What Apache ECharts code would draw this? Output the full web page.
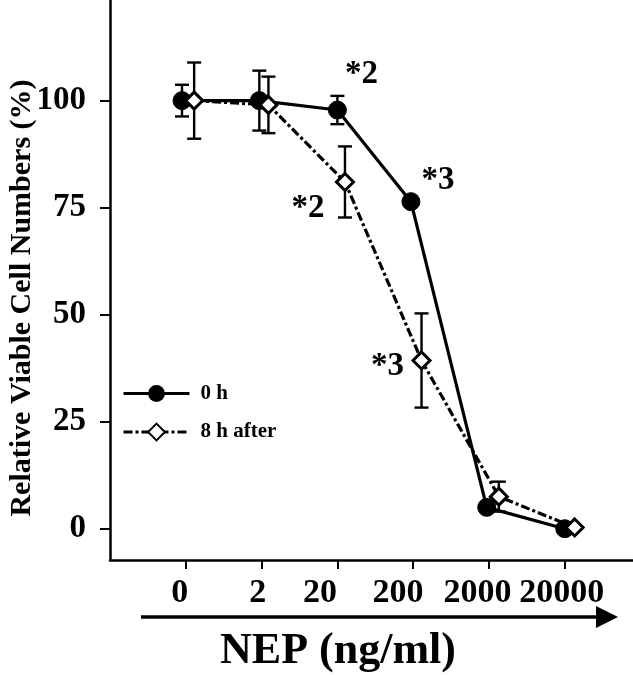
<!DOCTYPE html>
<html>
<head>
<meta charset="utf-8">
<script src="https://cdn.jsdelivr.net/npm/echarts@6/dist/echarts.min.js"></script>
<style>
  html, body { margin: 0; padding: 0; background: #fff; }
  #chart { width: 633px; height: 675px; }
</style>
</head>
<body>
<div id="chart"></div>
<script>
// doses (ng/ml) shown on the x axis, one slot each
const doses = ['0', '2', '20', '200', '2000', '20000'];

// relative viable cells (%) and error bar half-lengths
const viable0h = [100, 100, 97.8, 76.4, 5, 0];
const err0h = [3.7, 7, 3.3, 0, 0, 0];
const viable8h = [100, 99, 81, 39.3, 7.5, 0.3];
const err8h = [8.9, 6.6, 8.3, 11, 3.5, 0];

// small sideways jitter of the points as drawn
const shift0h = [-0.05, -0.03, 0, -0.03, -0.03, 0];
const shift8h = [0.11, 0.09, 0.1, 0.11, 0.13, 0.13];

// significance marks
const notes0h = ['', '', '*2', '*3', '', ''];
const notes8h = ['', '', '*2', '*3', '', ''];

const yTicks = [0, 25, 50, 75, 100];

// layout only
const labelShift = [-0.08, -0.05, -0.23, -0.2, -0.15, -0.04];
const noteOffset0h = [null, null, [24, -36], [27, -21], null, null];
const noteOffset8h = [null, null, [-37, 27], [-34, 6], null, null];
const FONT = '"Liberation Serif", "DejaVu Serif", serif';

function points(vals, shifts, notes, offsets) {
  return vals.map((v, i) => {
    const item = {value: [i + shifts[i], v]};
    if (notes[i]) {
      item.label = {
        show: true,
        formatter: notes[i],
        position: 'inside',
        offset: offsets[i],
        fontFamily: FONT,
        fontWeight: 'bold',
        fontSize: 33,
        color: '#000'
      };
    }
    return item;
  });
}

function bars(vals, errs, shifts) {
  const out = [];
  vals.forEach((v, i) => {
    if (errs[i] > 0) out.push([i + shifts[i], v, errs[i]]);
  });
  return out;
}

function renderBar(params, api) {
  const x = api.value(0), y = api.value(1), e = api.value(2);
  const top = api.coord([x, y + e]);
  const bot = api.coord([x, y - e]);
  const cap = 7;
  const style = {stroke: '#000', lineWidth: 2.4};
  return {
    type: 'group',
    children: [
      {type: 'line', shape: {x1: top[0], y1: top[1], x2: bot[0], y2: bot[1]}, style},
      {type: 'line', shape: {x1: top[0] - cap, y1: top[1], x2: top[0] + cap, y2: top[1]}, style},
      {type: 'line', shape: {x1: bot[0] - cap, y1: bot[1], x2: bot[0] + cap, y2: bot[1]}, style}
    ]
  };
}

const chart = echarts.init(document.getElementById('chart'));

const option = {
  animation: false,
  backgroundColor: '#fff',
  grid: {left: 110, right: 0, top: 0, bottom: 115, containLabel: false},
  legend: {
    data: ['0 h', '8 h after'],
    orient: 'vertical',
    left: 117,
    top: 378,
    itemWidth: 66,
    itemHeight: 21,
    itemGap: 17.5,
    lineStyle: {width: 3},
    textStyle: {
      fontFamily: FONT,
      fontWeight: 'bold',
      fontSize: 21,
      color: '#000',
      padding: [0, 0, 0, 6]
    }
  },
  xAxis: {
    type: 'value',
    min: -1,
    max: 5.9,
    splitLine: {show: false},
    axisLine: {show: true, onZero: false, lineStyle: {color: '#000', width: 2.5}},
    axisTick: {show: true, length: 9, customValues: [0, 1, 2, 3, 4, 5], lineStyle: {color: '#000', width: 2}},
    axisLabel: {
      customValues: labelShift.map((s, i) => i + s),
      formatter: v => doses[Math.round(v)],
      margin: 16,
      fontFamily: FONT,
      fontWeight: 'bold',
      fontSize: 34,
      color: '#000'
    }
  },
  yAxis: {
    type: 'value',
    min: -7.3,
    max: 123.5,
    splitLine: {show: false},
    axisLine: {show: true, onZero: false, lineStyle: {color: '#000', width: 2.5}},
    axisTick: {show: true, length: 10, customValues: yTicks, lineStyle: {color: '#000', width: 2}},
    axisLabel: {
      customValues: yTicks,
      margin: 24,
      fontFamily: FONT,
      fontWeight: 'bold',
      fontSize: 33,
      color: '#000'
    }
  },
  series: [
    {
      type: 'custom',
      name: 'err0h',
      renderItem: renderBar,
      data: bars(viable0h, err0h, shift0h),
      encode: {x: 0, y: 1},
      z: 1,
      silent: true
    },
    {
      type: 'custom',
      name: 'err8h',
      renderItem: renderBar,
      data: bars(viable8h, err8h, shift8h),
      encode: {x: 0, y: 1},
      z: 1,
      silent: true
    },
    {
      name: '0 h',
      type: 'line',
      data: points(viable0h, shift0h, notes0h, noteOffset0h),
      symbol: 'circle',
      symbolSize: 18,
      lineStyle: {color: '#000', width: 3.2},
      itemStyle: {color: '#000', borderColor: '#000'},
      z: 3
    },
    {
      name: '8 h after',
      type: 'line',
      data: points(viable8h, shift8h, notes8h, noteOffset8h),
      symbol: 'diamond',
      symbolSize: 17,
      lineStyle: {color: '#000', width: 3.2, type: [9, 3, 3, 3]},
      itemStyle: {color: '#fff', borderColor: '#000', borderWidth: 3},
      z: 4
    }
  ],
  graphic: [
    {
      type: 'text',
      x: 22,
      y: 298,
      rotation: Math.PI / 2,
      style: {
        text: 'Relative Viable Cell Numbers (%)',
        font: 'bold 30px ' + FONT,
        fill: '#000',
        textAlign: 'center',
        textVerticalAlign: 'middle'
      }
    },
    {
      type: 'text',
      x: 338,
      y: 652,
      style: {
        text: 'NEP (ng/ml)',
        font: 'bold 44px ' + FONT,
        fill: '#000',
        textAlign: 'center',
        textVerticalAlign: 'middle'
      }
    },
    {
      type: 'line',
      shape: {x1: 141, y1: 617, x2: 598, y2: 617},
      style: {stroke: '#000', lineWidth: 3.5}
    },
    {
      type: 'polygon',
      shape: {points: [[596, 606], [618, 617], [596, 628]]},
      style: {fill: '#000'}
    }
  ]
};

chart.setOption(option);
</script>
</body>
</html>
